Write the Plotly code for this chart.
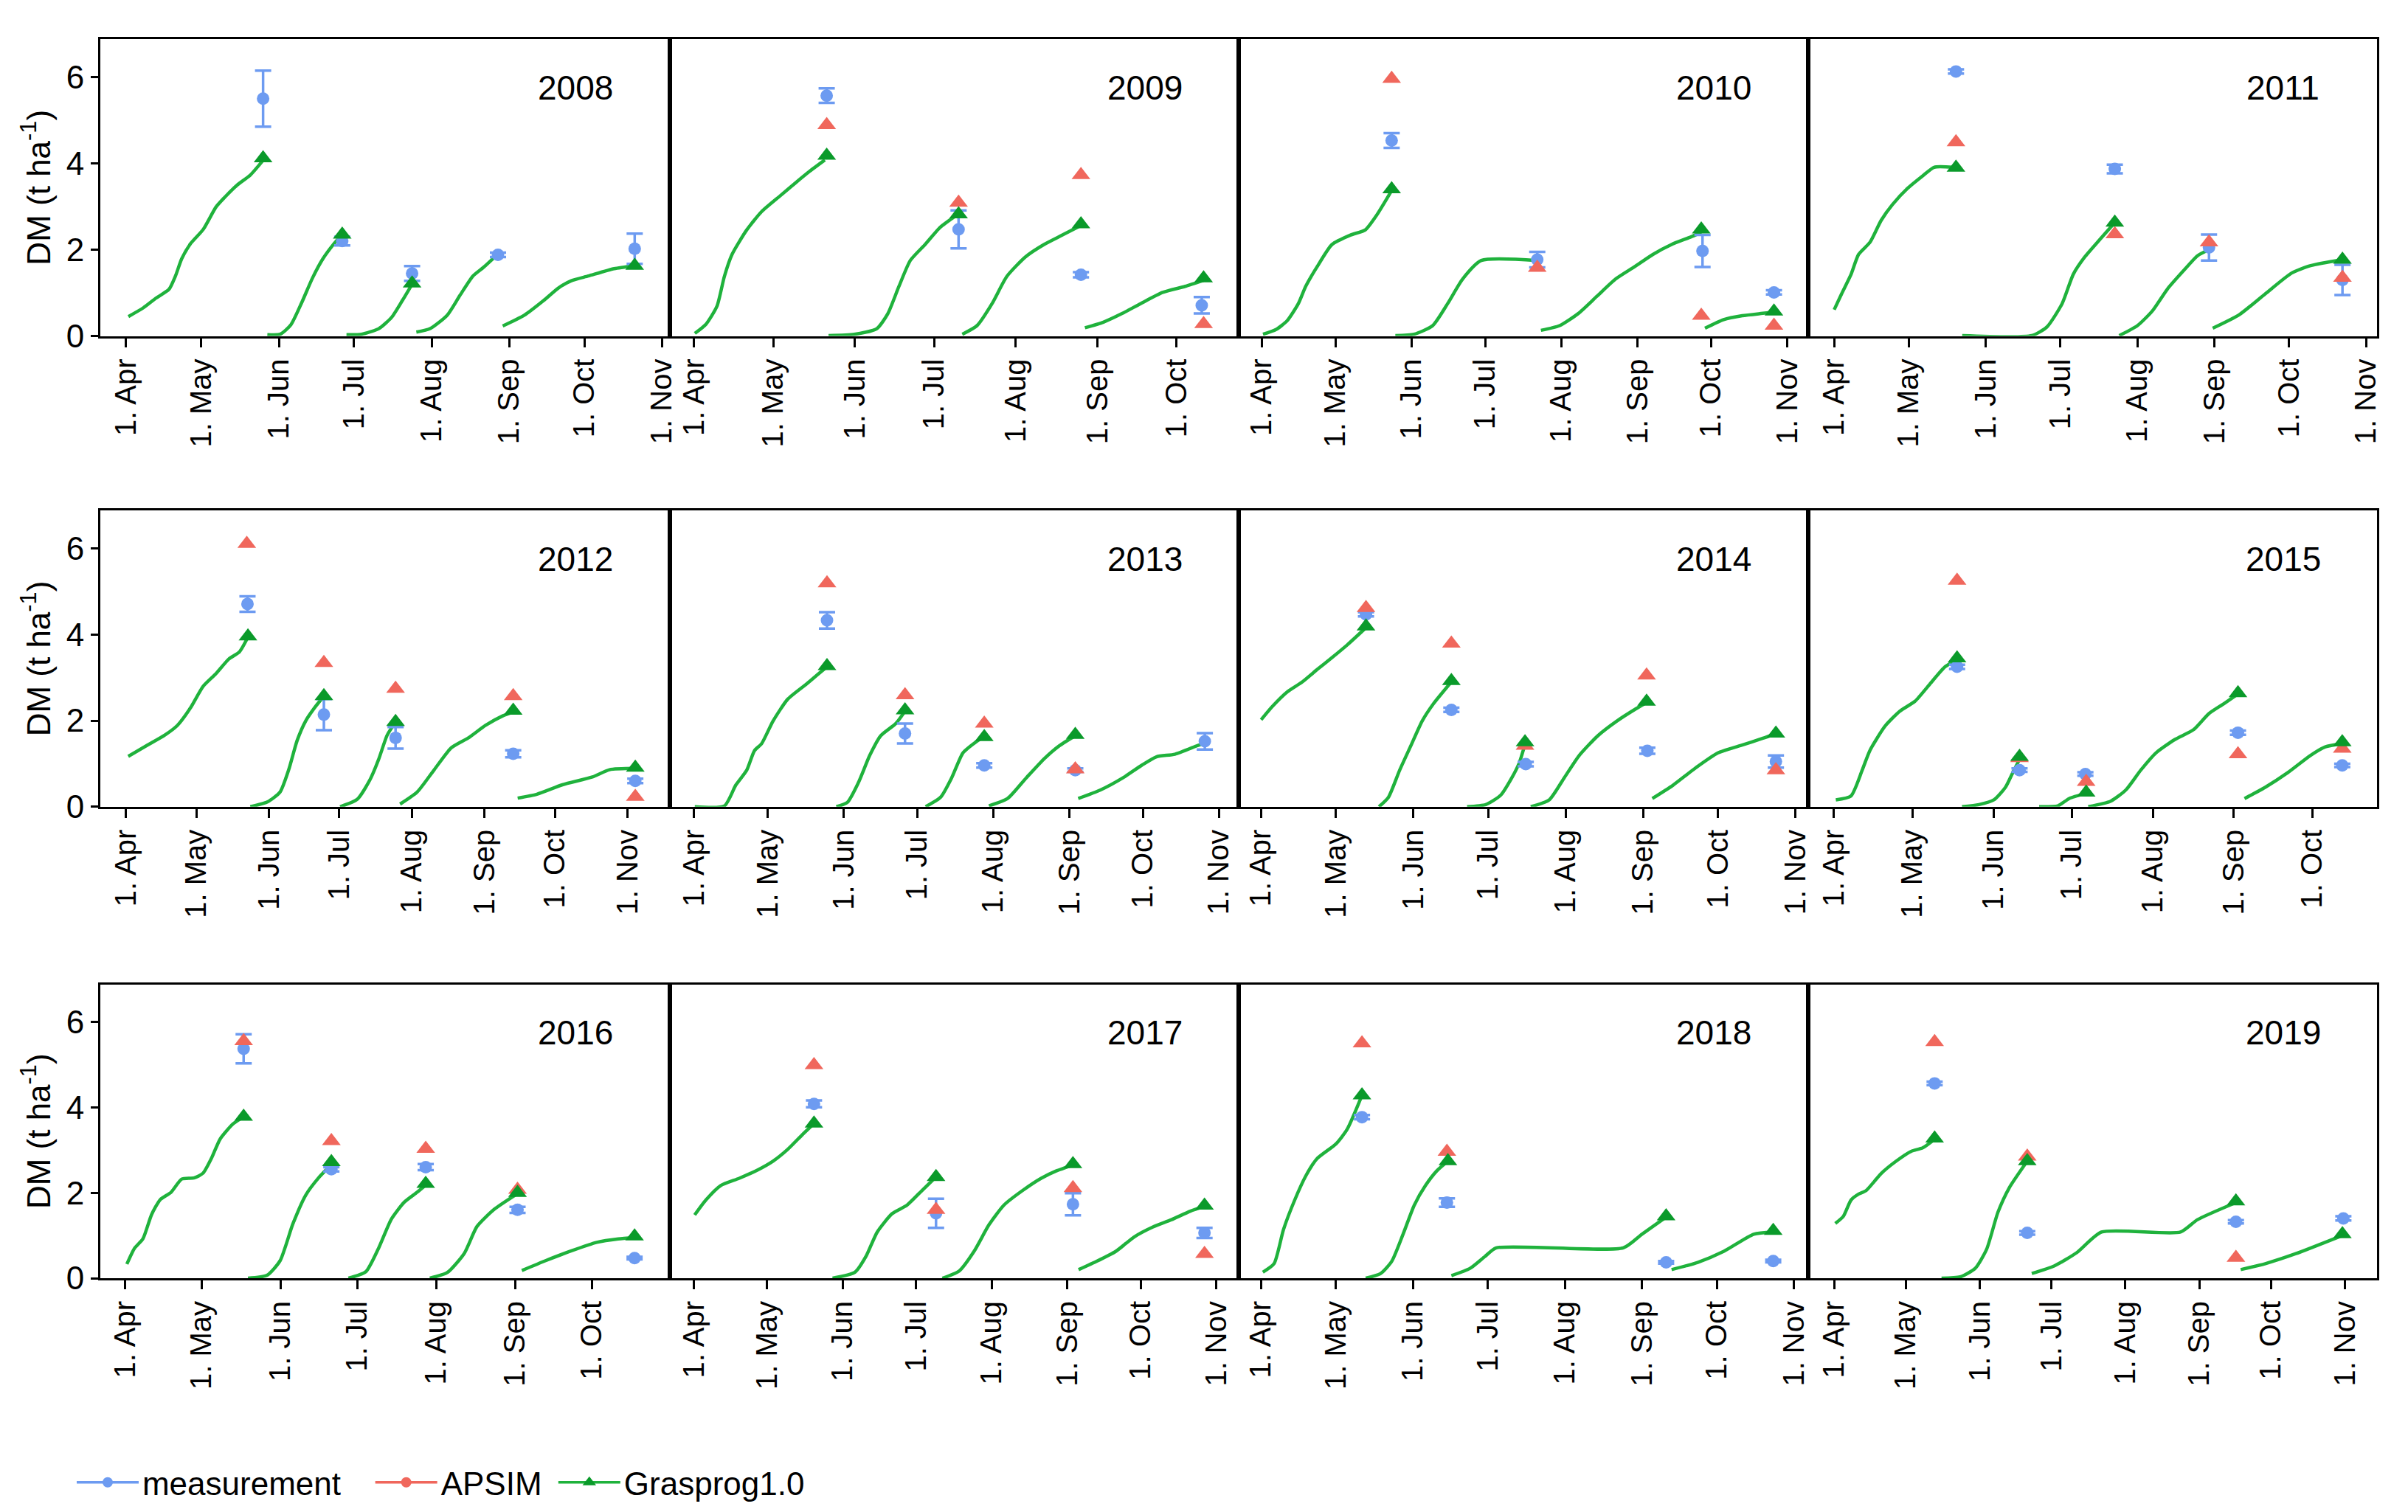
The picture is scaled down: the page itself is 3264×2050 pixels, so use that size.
import plotly.graph_objects as go
import pandas as pd

YEARS = [2008, 2009, 2010, 2011, 2012, 2013, 2014, 2015, 2016, 2017, 2018, 2019]

# x-axis extent of each panel, in days since 1 April of that year
X_START_DAY = [-10.3, -9.3, -9.4, -10.6, -11.0, -10.0, -9.0, -10.0, -9.7, -10.0, -9.0, -11.0]
X_END_DAY = [217.0, 206.5, 222.4, 218.4, 231.9, 222.0, 219.0, 207.8, 213.5, 223.2, 219.5, 227.4]

# Grasprog1.0 simulated regrowth curves: (days since 1 April, DM t/ha)
GRAS_CURVES = {
    2008: [
        [(0.9, 0.45), (6.8, 0.65), (12, 0.88), (17.1, 1.08), (19.7, 1.39), (22.2, 1.79), (25.6, 2.13), (30.8, 2.47), (35.9, 2.99), (39.3, 3.21), (44.4, 3.5), (49.6, 3.73), (54.7, 4.07)],
        [(56.4, 0.03), (61.5, 0.04), (65.8, 0.26), (70.1, 0.77), (74.4, 1.34), (78.6, 1.79), (82.9, 2.13), (86.3, 2.35)],
        [(88, 0.03), (94, 0.04), (100.9, 0.17), (106, 0.43), (110.3, 0.82), (114.2, 1.2)],
        [(115.9, 0.09), (121.4, 0.17), (128.2, 0.48), (133.3, 0.94), (138.5, 1.39), (142.7, 1.59), (147, 1.82)],
        [(150.4, 0.23), (159, 0.48), (166.7, 0.82), (172.6, 1.11), (177.8, 1.28), (184.6, 1.39), (194.9, 1.56), (203.1, 1.63)],
    ],
    2009: [
        [(0.3, 0.06), (4.5, 0.27), (8.7, 0.69), (11.5, 1.38), (14.4, 1.89), (20, 2.46), (25.6, 2.88), (32.7, 3.25), (38.3, 3.54), (43.9, 3.82), (49.6, 4.08)],
        [(51, 0.01), (60.8, 0.04), (69.3, 0.17), (73.5, 0.52), (77.7, 1.15), (82, 1.75), (87.6, 2.12), (93.2, 2.51), (99.6, 2.8)],
        [(101.7, 0.04), (107.3, 0.24), (113, 0.75), (118.6, 1.38), (125.6, 1.83), (132.7, 2.12), (139.7, 2.34), (146, 2.54)],
        [(148.2, 0.19), (155.2, 0.32), (162.3, 0.52), (169.3, 0.75), (177.7, 1.01), (186.2, 1.15), (193.2, 1.29)],
    ],
    2010: [
        [(0.5, 0.04), (5.8, 0.15), (10.3, 0.35), (14.9, 0.75), (17.9, 1.15), (22.5, 1.6), (28.6, 2.12), (36.2, 2.34), (42.2, 2.46), (46.8, 2.8), (52.9, 3.37)],
        [(54.4, 0.01), (62, 0.04), (69.6, 0.24), (75.7, 0.75), (81.8, 1.32), (89.4, 1.75), (112.2, 1.75)],
        [(113.7, 0.13), (121.3, 0.24), (128.9, 0.52), (136.5, 0.92), (144.1, 1.32), (151.7, 1.6), (159.3, 1.89), (166.9, 2.12), (174.5, 2.29), (179, 2.4)],
        [(180.5, 0.18), (188.1, 0.38), (195.7, 0.47), (203.3, 0.52), (208.6, 0.55)],
    ],
    2011: [
        [(0, 0.61), (3, 0.98), (6.8, 1.43), (9.8, 1.89), (14.4, 2.17), (18.9, 2.68), (23.5, 3.05), (29.5, 3.42), (35.6, 3.71), (40.2, 3.91), (47.7, 3.91), (49, 3.9)],
        [(51.5, 0.01), (79.5, 0.01), (85.6, 0.21), (91.7, 0.75), (96.2, 1.43), (100.8, 1.83), (106.8, 2.23), (112.9, 2.63)],
        [(114.7, 0.01), (122, 0.24), (128, 0.58), (134.1, 1.09), (140.2, 1.49), (146.2, 1.86), (150.8, 2.0)],
        [(152.3, 0.18), (162.9, 0.49), (173.5, 0.98), (184.1, 1.46), (191.7, 1.63), (204.5, 1.77)],
    ],
    2012: [
        [(0.9, 1.17), (9.1, 1.43), (16.4, 1.66), (21.9, 1.89), (27.4, 2.29), (32.9, 2.8), (38.3, 3.09), (43.8, 3.43), (48.4, 3.6), (52, 3.94)],
        [(53, 0.0), (60.3, 0.11), (65.7, 0.34), (69.4, 0.86), (73, 1.54), (76.7, 2.0), (80.3, 2.29), (84.4, 2.57)],
        [(91.3, 0.0), (98.6, 0.17), (104.1, 0.63), (107.7, 1.09), (111.4, 1.66), (115, 1.97)],
        [(116.9, 0.06), (124.2, 0.34), (131.5, 0.86), (138.8, 1.37), (146.1, 1.6), (153.4, 1.89), (160.7, 2.11), (165.2, 2.2)],
        [(167.1, 0.2), (175.3, 0.29), (186.2, 0.51), (199, 0.69), (206.3, 0.86), (217.3, 0.89)],
    ],
    2013: [
        [(0.3, 0.0), (12.4, 0.02), (17, 0.5), (21.5, 0.85), (24.6, 1.3), (27.6, 1.47), (32.2, 1.99), (38.2, 2.5), (45.8, 2.85), (50.4, 3.07), (54.2, 3.25)],
        [(58, 0.0), (62.5, 0.1), (67, 0.56), (71.6, 1.19), (76.1, 1.65), (82.2, 1.93), (86, 2.22)],
        [(94.4, 0.0), (100.5, 0.22), (105, 0.67), (109.6, 1.25), (114.1, 1.47), (117.9, 1.62)],
        [(120.2, 0.02), (127.8, 0.19), (135.4, 0.67), (143, 1.13), (149, 1.42), (155.4, 1.65)],
        [(156.6, 0.19), (165.7, 0.39), (174.8, 0.67), (182.4, 0.96), (188.5, 1.16), (196, 1.22), (205.2, 1.42), (208.2, 1.48)],
    ],
    2014: [
        [(0, 2.02), (4.5, 2.33), (10.5, 2.67), (16.5, 2.9), (22.5, 3.19), (28.5, 3.47), (34.5, 3.76), (42, 4.16)],
        [(47.2, 0.0), (51, 0.22), (55.5, 0.85), (60, 1.42), (64.5, 1.99), (69, 2.39), (76.2, 2.9)],
        [(82.5, 0.0), (90, 0.05), (96, 0.27), (100.4, 0.67), (103.4, 1.02), (105.7, 1.45)],
        [(108, 0.0), (115.4, 0.16), (121.4, 0.67), (127.4, 1.19), (134.9, 1.65), (142.5, 1.99), (150, 2.27), (154.4, 2.42)],
        [(156.7, 0.19), (165, 0.5), (174, 0.9), (183, 1.25), (192, 1.42), (201, 1.59), (206.2, 1.7)],
    ],
    2015: [
        [(0.7, 0.16), (6.5, 0.25), (10.8, 0.85), (13.7, 1.3), (19.5, 1.87), (25.2, 2.22), (31, 2.45), (36.7, 2.85), (42.5, 3.25), (47.1, 3.42)],
        [(49, 0.0), (55.5, 0.05), (61.2, 0.16), (65.6, 0.45), (68.4, 0.79), (71, 1.1)],
        [(78.5, 0.0), (85.7, 0.02), (90, 0.19), (96.5, 0.31)],
        [(97.3, 0.0), (105.9, 0.13), (111.7, 0.39), (117.4, 0.85), (123.2, 1.25), (130.4, 1.56), (137.6, 1.79), (143.4, 2.16), (149.1, 2.39), (154.6, 2.62)],
        [(157.1, 0.19), (165, 0.45), (173.6, 0.79), (182.3, 1.19), (188, 1.39), (194.5, 1.47)],
    ],
    2016: [
        [(0.7, 0.33), (3.7, 0.7), (7, 0.92), (10.4, 1.49), (13.8, 1.84), (18, 2.01), (22.2, 2.32), (27.2, 2.35), (30.6, 2.46), (33.9, 2.81), (37.3, 3.26), (42.3, 3.61), (46.5, 3.78)],
        [(48.2, 0.0), (55.7, 0.07), (60.8, 0.41), (65.8, 1.27), (70.9, 1.95), (75.9, 2.35), (80.9, 2.66)],
        [(87.6, 0.0), (94.4, 0.15), (99.4, 0.7), (104.4, 1.38), (109.5, 1.78), (114.5, 2.01), (117.9, 2.18)],
        [(119.5, 0.0), (126.3, 0.13), (133, 0.58), (138, 1.21), (144.7, 1.61), (153.1, 1.95)],
        [(155.6, 0.18), (164.9, 0.41), (175, 0.64), (185, 0.84), (193.4, 0.92), (199.8, 0.95)],
    ],
    2017: [
        [(0.3, 1.48), (4.9, 1.83), (11, 2.17), (18.6, 2.34), (26.3, 2.54), (32.4, 2.74), (38.5, 3.02), (44.6, 3.37), (49.2, 3.62)],
        [(56.8, 0.0), (66, 0.14), (70.5, 0.51), (75.1, 1.08), (81.2, 1.51), (87.3, 1.71), (93.4, 2.05), (99.2, 2.37)],
        [(101.8, 0.0), (108.7, 0.17), (114.8, 0.63), (120.9, 1.25), (127, 1.71), (134.6, 2.05), (142.3, 2.34), (148.4, 2.51), (155.3, 2.65)],
        [(157.6, 0.2), (165.2, 0.4), (172.9, 0.63), (180.5, 0.97), (188.1, 1.2), (195.7, 1.37), (203.4, 1.57), (209.2, 1.68)],
    ],
    2018: [
        [(0.7, 0.14), (5.2, 0.34), (9, 1.14), (13.5, 1.83), (18, 2.4), (22.5, 2.8), (30, 3.14), (34.5, 3.48), (40.5, 4.28)],
        [(42, 0.0), (48, 0.11), (52.5, 0.4), (57, 1.03), (61.5, 1.71), (66, 2.17), (70.5, 2.51), (75, 2.74)],
        [(76.4, 0.06), (83.9, 0.23), (89.9, 0.51), (94.4, 0.71), (145.4, 0.71), (152.9, 1.03), (162.6, 1.43)],
        [(164.8, 0.2), (175.3, 0.37), (185.8, 0.63), (197.8, 1.03), (205.6, 1.08)],
    ],
    2019: [
        [(0.5, 1.28), (3.9, 1.45), (7.1, 1.83), (10.3, 1.97), (13.4, 2.05), (19.7, 2.45), (26, 2.74), (32.3, 2.97), (37.1, 3.05), (42.1, 3.25)],
        [(45, 0.0), (52.8, 0.03), (59.1, 0.23), (63.9, 0.68), (68.6, 1.54), (73.3, 2.11), (80.9, 2.74)],
        [(82.8, 0.11), (92.3, 0.29), (101.7, 0.6), (112, 1.08), (145.1, 1.08), (152.2, 1.37), (168.3, 1.77)],
        [(170.3, 0.2), (180.6, 0.34), (193.2, 0.57), (212.9, 1.0)],
    ],
}

# Grasprog1.0 values at harvest (visible triangles)
GRAS_HARVEST = {
    2008: [(54.7, 4.12), (86.3, 2.35), (114.2, 1.22), (203.1, 1.63)],
    2009: [(50.3, 4.18), (100.3, 2.82), (146.7, 2.59), (193.2, 1.34)],
    2010: [(52.9, 3.4), (179, 2.47), (208.6, 0.57)],
    2011: [(49, 3.9), (112.9, 2.63), (204.5, 1.77)],
    2012: [(52, 3.96), (84.4, 2.57), (115, 1.97), (165.2, 2.23), (217.3, 0.91)],
    2013: [(54.2, 3.27), (86, 2.24), (118.3, 1.62), (155.4, 1.67)],
    2014: [(42, 4.19), (76.2, 2.92), (105.7, 1.5), (154.4, 2.44), (206.2, 1.7)],
    2015: [(47.1, 3.45), (71, 1.16), (96.5, 0.33), (154.6, 2.64), (194.5, 1.5)],
    2016: [(46.5, 3.78), (80.9, 2.72), (117.9, 2.21), (153.9, 2.0), (199.8, 0.98)],
    2017: [(49.2, 3.62), (99.2, 2.37), (155.3, 2.67), (209.2, 1.7)],
    2018: [(40.5, 4.28), (75, 2.74), (162.6, 1.45), (205.6, 1.11)],
    2019: [(42.1, 3.27), (80.9, 2.74), (168.3, 1.8), (212.9, 1.03)],
}

# APSIM simulated values at harvest
APSIM = {
    2008: [],
    2009: [(50.3, 4.89), (100.3, 3.09), (146.7, 3.73), (193.2, 0.28)],
    2010: [(52.9, 5.96), (112.2, 1.58), (179, 0.47), (208.6, 0.24)],
    2011: [(49, 4.49), (112.9, 2.36), (150.8, 2.17), (204.5, 1.35)],
    2012: [(51.5, 6.11), (84.4, 3.34), (115, 2.74), (165.2, 2.57), (217.3, 0.23)],
    2013: [(54.2, 5.19), (86, 2.59), (118.3, 1.93), (155.4, 0.87)],
    2014: [(42, 4.62), (76.2, 3.79), (105.7, 1.42), (154.4, 3.05), (206.2, 0.85)],
    2015: [(47.1, 5.25), (71, 1.13), (96.5, 0.58), (154.6, 1.22), (194.5, 1.35)],
    2016: [(46.5, 5.55), (80.9, 3.21), (117.9, 3.03), (153.9, 2.07)],
    2017: [(49.2, 4.99), (99.2, 1.6), (155.3, 2.11), (209.2, 0.57)],
    2018: [(40.5, 5.5), (74.6, 2.96)],
    2019: [(42.1, 5.53), (80.9, 2.85), (168.3, 0.48)],
}

# Measurements: (days since 1 April, mean DM t/ha, error)
MEAS = {
    2008: [(54.7, 5.5, 0.65), (86.3, 2.2, 0.1), (114.2, 1.45, 0.17), (148.5, 1.88, 0.05), (203.1, 2.02, 0.35)],
    2009: [(50.3, 5.57, 0.17), (100.3, 2.47, 0.44), (146.7, 1.42, 0.06), (192.5, 0.71, 0.19)],
    2010: [(52.9, 4.53, 0.17), (112.2, 1.77, 0.18), (179.5, 1.97, 0.37), (208.6, 1.01, 0.05)],
    2011: [(49, 6.13, 0.05), (112.9, 3.87, 0.1), (150.8, 2.05, 0.3), (204.5, 1.3, 0.35)],
    2012: [(51.8, 4.71, 0.18), (84.4, 2.14, 0.36), (115, 1.6, 0.25), (165.2, 1.23, 0.08), (217.3, 0.6, 0.05)],
    2013: [(54.2, 4.33, 0.19), (86, 1.7, 0.23), (118.3, 0.96, 0.05), (155.4, 0.85, 0.04), (208.2, 1.52, 0.19)],
    2014: [(42, 4.47, 0.05), (76.2, 2.25, 0.05), (106, 0.99, 0.05), (154.7, 1.3, 0.07), (206.2, 1.05, 0.14)],
    2015: [(47.1, 3.25, 0.05), (71, 0.85, 0.04), (96.2, 0.76, 0.04), (154.6, 1.72, 0.05), (194.5, 0.96, 0.04)],
    2016: [(46.5, 5.37, 0.34), (80.9, 2.55, 0.05), (117.9, 2.6, 0.07), (153.9, 1.6, 0.07), (199.8, 0.47, 0.03)],
    2017: [(49.2, 4.08, 0.08), (99.2, 1.52, 0.34), (155.3, 1.73, 0.26), (209.2, 1.06, 0.12)],
    2018: [(40.5, 3.77, 0.05), (74.6, 1.77, 0.1), (162.6, 0.37, 0.03), (205.6, 0.4, 0.03)],
    2019: [(42.1, 4.56, 0.04), (80.9, 1.06, 0.04), (168.3, 1.32, 0.04), (213.3, 1.4, 0.05)],
}

BLUE = "#6d9bf1"
RED = "#f0675c"
GREEN_LINE = "#1fb23c"
GREEN_MARK = "#0a9a2a"
FONT = "Liberation Sans, Arial, sans-serif"
NBSP = "\u00a0"


def to_date(year, day):
    return pd.Timestamp(year, 4, 1) + pd.Timedelta(days=day)


fig = go.Figure()

ROW_DOMAINS = [[0.7604, 1.0], [0.3805, 0.6195], [0.0, 0.2372]]

for i, year in enumerate(YEARS):
    r, c = divmod(i, 4)
    k = i + 1
    xa = "x" if k == 1 else f"x{k}"
    ya = "y" if k == 1 else f"y{k}"
    # Grasprog curves
    for seg in GRAS_CURVES[year]:
        fig.add_trace(go.Scatter(
            x=[to_date(year, d) for d, _ in seg], y=[v for _, v in seg],
            mode="lines", line=dict(color=GREEN_LINE, width=4.5, shape="spline", smoothing=0.6),
            xaxis=xa, yaxis=ya, showlegend=False, hoverinfo="skip"))
    # measurements
    m = MEAS[year]
    fig.add_trace(go.Scatter(
        x=[to_date(year, d) for d, _, _ in m], y=[v for _, v, _ in m],
        mode="markers", marker=dict(color=BLUE, size=17, symbol="circle"),
        error_y=dict(type="data", array=[e for _, _, e in m], color=BLUE, thickness=3.5, width=11),
        xaxis=xa, yaxis=ya, showlegend=False))
    # APSIM
    a = APSIM[year]
    if a:
        fig.add_trace(go.Scatter(
            x=[to_date(year, d) for d, _ in a], y=[v for _, v in a],
            mode="markers", marker=dict(color=RED, size=22, symbol="triangle-up"),
            xaxis=xa, yaxis=ya, showlegend=False))
    # Grasprog harvest markers
    g = GRAS_HARVEST[year]
    fig.add_trace(go.Scatter(
        x=[to_date(year, d) for d, _ in g], y=[v for _, v in g],
        mode="markers", marker=dict(color=GREEN_MARK, size=22, symbol="triangle-up"),
        xaxis=xa, yaxis=ya, showlegend=False))

    xkey = "xaxis" if k == 1 else f"xaxis{k}"
    ykey = "yaxis" if k == 1 else f"yaxis{k}"
    fig.layout[xkey] = dict(
        domain=[c / 4, (c + 1) / 4], anchor=ya, type="date",
        range=[to_date(year, X_START_DAY[i]), to_date(year, X_END_DAY[i])],
        tick0=f"{year}-04-01", dtick="M1", tickformat="%-d. %b", tickangle=-90,
        ticks="outside", ticklen=12, tickwidth=3, tickcolor="black",
        showline=True, linecolor="black", linewidth=3, mirror=True,
        showgrid=False, zeroline=False,
        tickfont=dict(family=FONT, size=40, color="black"))
    yd = dict(
        domain=ROW_DOMAINS[r], anchor=xa, range=[0, 6.88],
        tickvals=[0, 2, 4, 6],
        showline=True, linecolor="black", linewidth=3, mirror=True,
        showgrid=False, zeroline=False,
        tickfont=dict(family=FONT, size=44, color="black"))
    if c == 0:
        yd.update(ticks="outside", ticklen=10, tickwidth=3, tickcolor="black",
                  showticklabels=True,
                  title=dict(text="DM (t ha<sup>-1</sup>)", standoff=8,
                             font=dict(family=FONT, size=44, color="black")))
    else:
        yd.update(ticks="", showticklabels=False)
    fig.layout[ykey] = yd

    fig.add_annotation(
        text=str(year), xref=f"{xa} domain", yref=f"{ya} domain",
        x=0.835, y=0.835, xanchor="center", yanchor="middle", showarrow=False,
        font=dict(family=FONT, size=46, color="black"))

# legend entries
fig.add_trace(go.Scatter(x=[None], y=[None], mode="lines+markers", name="measurement" + NBSP * 3,
                         line=dict(color=BLUE, width=3.5), marker=dict(color=BLUE, size=14, symbol="circle")))
fig.add_trace(go.Scatter(x=[None], y=[None], mode="lines+markers", name="APSIM" + NBSP,
                         line=dict(color=RED, width=3.5), marker=dict(color=RED, size=14, symbol="circle")))
fig.add_trace(go.Scatter(x=[None], y=[None], mode="lines+markers", name="Grasprog1.0",
                         line=dict(color=GREEN_LINE, width=3.5), marker=dict(color=GREEN_MARK, size=17, symbol="triangle-up")))

fig.update_layout(
    width=3264, height=2050,
    margin=dict(l=128, r=50, t=45, b=323),
    paper_bgcolor="white", plot_bgcolor="white",
    font=dict(family=FONT, color="black"),
    showlegend=True,
    legend=dict(orientation="h", x=-0.012, y=-0.165, xanchor="left", yanchor="middle",
                font=dict(family=FONT, size=44, color="black"), itemwidth=84,
                bgcolor="rgba(0,0,0,0)"),
)

fig.write_html("out.html")
